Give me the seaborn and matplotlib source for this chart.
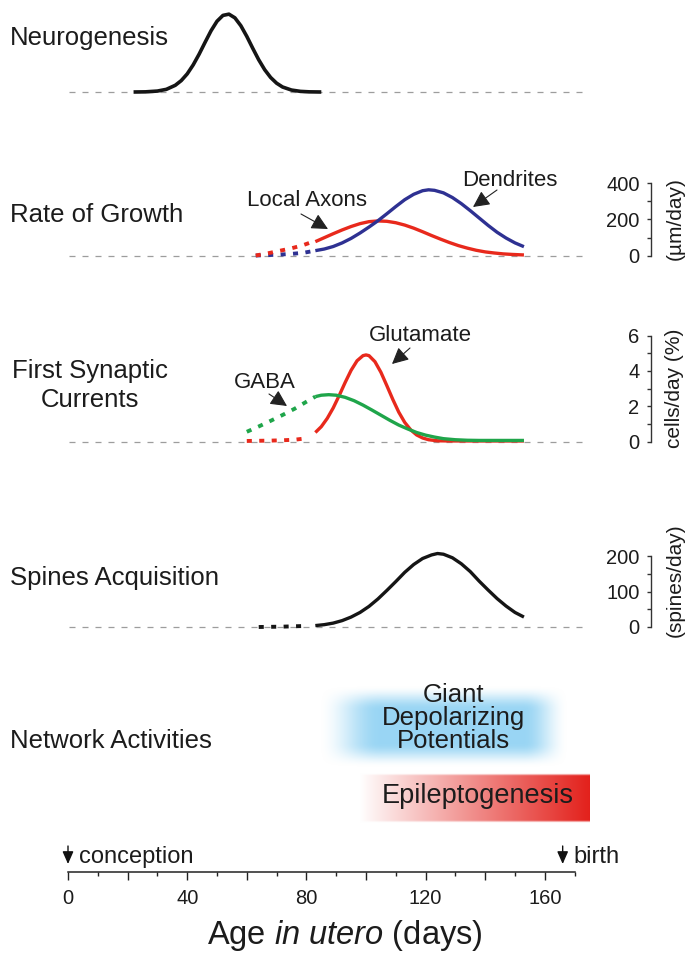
import numpy as np
import matplotlib
matplotlib.use("Agg")
import matplotlib.pyplot as plt
import seaborn as sns

# ---------------- data ----------------
neuro_days = [22, 26, 30, 33, 36, 38, 40, 42, 44, 46, 48, 50, 52, 54, 56, 58, 60, 62, 64, 66, 68, 70, 72, 75, 78, 81, 85]
neuro_vals = [0, 0.2, 1.2, 3.4, 8.6, 14.6, 23.2, 34.7, 48.5, 63.7, 78.5, 90.7, 98.2, 99.8, 95.1, 85.0, 71.3, 56.0,
              41.3, 28.6, 18.6, 11.3, 6.4, 2.5, 0.8, 0.2, 0]

axon_dot_days = [63, 67, 71, 75, 79, 82]
axon_dot_vals = [0, 12, 26, 40, 58, 76]
axon_days = [83, 86, 89, 92, 95, 98, 101, 104, 107, 110, 113, 116, 119, 122, 125, 128, 131, 134, 137, 140, 143, 146, 149, 153]
axon_vals = [77, 99, 121, 142, 161, 177, 188, 192, 190, 182, 169, 152, 132, 111, 91, 72, 55, 41, 29, 20, 14, 9, 6, 3]
dend_dot_days = [63, 67, 71, 75, 79, 82]
dend_dot_vals = [0, 2, 5, 9, 15, 24]
dend_days = [83, 86, 89, 92, 95, 98, 101, 104, 107, 110, 113, 116, 119, 121, 123, 126, 129, 132, 135, 138, 141, 144, 147, 150, 153]
dend_vals = [27, 36, 50, 70, 95, 125, 158, 193, 232, 272, 310, 340, 360, 365, 362, 348, 322, 288, 249, 208, 167, 129, 97, 70, 49]

gaba_dot_days = [60, 64, 68, 72, 76, 80, 83]
gaba_dot_vals = [0.55, 0.85, 1.17, 1.5, 1.85, 2.25, 2.54]
gaba_days = [83, 85, 87.5, 90, 93, 96, 99, 102, 105, 108, 111, 114, 117, 120, 123, 126, 130, 134, 138, 143, 148, 153]
gaba_vals = [2.54, 2.62, 2.65, 2.62, 2.5, 2.31, 2.06, 1.78, 1.49, 1.2, 0.93, 0.71, 0.51, 0.36, 0.25, 0.16, 0.1,
             0.07, 0.06, 0.06, 0.06, 0.06]
glu_dot_days = [60, 64, 68, 72, 76, 80]
glu_dot_vals = [0.03, 0.04, 0.05, 0.07, 0.1, 0.18]
glu_days = [83, 85, 87, 89, 91, 93, 95, 97, 99, 100, 101, 103, 105, 107, 109, 111, 113, 115, 117, 119, 121, 124, 128,
            135, 145, 153]
glu_vals = [0.51, 0.84, 1.31, 1.9, 2.6, 3.34, 4.03, 4.57, 4.86, 4.9, 4.86, 4.52, 3.92, 3.16, 2.38, 1.66, 1.08, 0.66,
            0.37, 0.2, 0.1, 0.04, 0.03, 0.03, 0.03, 0.03]

spine_dot_days = [64, 68, 72, 76, 80]
spine_dot_vals = [0, 0.5, 1, 2, 3]
spine_days = [83, 86, 89, 92, 95, 98, 101, 104, 107, 110, 113, 116, 119, 122, 124, 126, 129, 132, 135, 138, 141, 144,
              147, 150, 153]
spine_vals = [4, 6.6, 11, 18, 28, 41, 58, 79, 103, 128, 154, 176, 193, 203, 207, 205, 195, 178, 156, 129, 104, 80, 59,
              41, 28]

gdp_days = (84, 168)
epi_days = (98, 175)
conception_day = 0
birth_day = 166

xticks_major = [0, 20, 40, 60, 80, 100, 120, 140, 160]
xtick_labels = ["0", "", "40", "", "80", "", "120", "", "160"]
xticks_minor = [10, 30, 50, 70, 90, 110, 130, 150, 170]
axis_end = 170

growth_ticks, growth_minor = [0, 200, 400], [100, 300]
syn_ticks, syn_minor = [0, 2, 4, 6], [1, 3, 5]
spine_ticks, spine_minor = [0, 100, 200], [50, 150]

# ---------------- style ----------------
sns.set_theme(style="white")
plt.rcParams["font.family"] = ["Liberation Sans", "DejaVu Sans"]
plt.rcParams["mathtext.fontset"] = "custom"
plt.rcParams["mathtext.rm"] = "Liberation Sans"
plt.rcParams["mathtext.it"] = "Liberation Sans:italic"

RED, BLUE, GREEN, BLACK = "#e8291c", "#2e3192", "#1fa54a", "#151515"
TXT = "#1c1c1c"
W, H = 687, 957
fig = plt.figure(figsize=(W / 100, H / 100), dpi=100)
fig.patch.set_facecolor("white")

X0_PX, PX_PER_DAY = 68.0, 2.98
XLIM = (-X0_PX / PX_PER_DAY, (W - X0_PX) / PX_PER_DAY)


def px2day(px):
    return (px - X0_PX) / PX_PER_DAY


def fx(px):
    return px / W


def fy(py):
    return 1 - py / H


def panel(top, bottom, base, ref_py, ref_val):
    ax = fig.add_axes([0, fy(bottom), 1, (bottom - top) / H])
    ppu = (base - ref_py) / ref_val
    ax.set_xlim(*XLIM)
    ax.set_ylim(-(bottom - base) / ppu, (base - top) / ppu)
    ax.patch.set_alpha(0)
    for s in ax.spines.values():
        s.set_visible(False)
    ax.set_xticks([])
    ax.set_yticks([])
    ax.grid(False)
    ax._base, ax._ppu = base, ppu
    ax.hlines(0, 0.5, 174, colors="#9d9d9d", linestyles=(0, (4.8, 5.6)), lw=0.9, zorder=1)
    return ax


def v(ax, py):
    return (ax._base - py) / ax._ppu


def curve(ax, x, y, color, dotted=False, lw=2.4):
    if dotted:
        sns.lineplot(x=x, y=y, ax=ax, color=color, lw=lw + 0.4, linestyle=(0, (1.3, 1.9)),
                     dash_capstyle="butt", estimator=None, zorder=3)
    else:
        sns.lineplot(x=x, y=y, ax=ax, color=color, lw=lw, estimator=None, zorder=3,
                     solid_capstyle="butt")
    ax.set_xlabel("")
    ax.set_ylabel("")


def scale_axis(ax, ticks, minor, label, label_py):
    sp = ax.spines["left"]
    sp.set_visible(True)
    sp.set_position(("data", px2day(651)))
    sp.set_bounds(ticks[0], ticks[-1])
    sp.set_linewidth(1.0)
    sp.set_color("#333333")
    ax.yaxis.set_ticks_position("left")
    ax.set_yticks(ticks)
    ax.set_yticklabels([str(t) for t in ticks])
    ax.set_yticks(minor, minor=True)
    ax.tick_params(axis="y", which="both", left=True)
    ax.tick_params(axis="y", which="major", direction="out", length=3.2, width=1.0, labelsize=14.5,
                   pad=5, colors="#333333", labelcolor=TXT)
    ax.tick_params(axis="y", which="minor", direction="out", length=2.6, width=1.0, colors="#333333")
    ax.text(px2day(675), v(ax, label_py), label, rotation=90, ha="center", va="center",
            fontsize=15, color=TXT)


def arrow(ax, x0, y0, x1, y1):
    ax.annotate("", xy=(px2day(x1), v(ax, y1)), xytext=(px2day(x0), v(ax, y0)),
                arrowprops=dict(arrowstyle="-|>,head_length=1.0,head_width=0.5", mutation_scale=10,
                                lw=0.8, color="#222222", shrinkA=0, shrinkB=0))


def label(px, py, s, size=18.5, ha="left", va="baseline", **kw):
    fig.text(fx(px), fy(py), s, ha=ha, va=va, fontsize=size, color=TXT, **kw)


# ---------------- Neurogenesis ----------------
ax1 = panel(0, 130, 92, 14, 100)
curve(ax1, neuro_days, neuro_vals, BLACK, lw=2.6)
label(10, 45, "Neurogenesis")

# ---------------- Rate of growth ----------------
ax2 = panel(150, 290, 255.5, 183.5, 400)
curve(ax2, dend_dot_days, dend_dot_vals, BLUE, dotted=True)
curve(ax2, axon_dot_days, axon_dot_vals, RED, dotted=True)
curve(ax2, axon_days, axon_vals, RED)
curve(ax2, dend_days, dend_vals, BLUE)
scale_axis(ax2, growth_ticks, growth_minor, "(µm/day)", 219)
label(10, 222, "Rate of Growth")
ax2.text(px2day(307), v(ax2, 206), "Local Axons", ha="center", va="baseline", fontsize=16, color=TXT)
ax2.text(px2day(510), v(ax2, 186), "Dendrites", ha="center", va="baseline", fontsize=16, color=TXT)
arrow(ax2, 301, 214, 328, 229)
arrow(ax2, 497, 190, 473, 207)

# ---------------- First synaptic currents ----------------
ax3 = panel(310, 480, 441.5, 335.5, 6)
curve(ax3, glu_dot_days, glu_dot_vals, RED, dotted=True)
curve(ax3, gaba_dot_days, gaba_dot_vals, GREEN, dotted=True)
curve(ax3, glu_days, glu_vals, RED)
curve(ax3, gaba_days, gaba_vals, GREEN)
scale_axis(ax3, syn_ticks, syn_minor, "cells/day (%)", 388)
label(90, 378, "First Synaptic", ha="center")
label(90, 407, "Currents", ha="center")
ax3.text(px2day(265), v(ax3, 388), "GABA", ha="center", va="baseline", fontsize=16, color=TXT)
ax3.text(px2day(420), v(ax3, 341), "Glutamate", ha="center", va="baseline", fontsize=16, color=TXT)
arrow(ax3, 269, 394, 287, 406)
arrow(ax3, 410, 348, 392, 364)

# ---------------- Spines acquisition ----------------
ax4 = panel(520, 655, 627, 556, 200)
curve(ax4, spine_dot_days, spine_dot_vals, BLACK, dotted=True)
curve(ax4, spine_days, spine_vals, BLACK)
scale_axis(ax4, spine_ticks, spine_minor, "(spines/day)", 580)
label(10, 585, "Spines Acquisition")

# ---------------- Network activities ----------------
ax5 = fig.add_axes([0, fy(842), 1, (842 - 682) / H])
ax5.set_xlim(*XLIM)
ax5.set_ylim(842, 682)
ax5.axis("off")


def smooth(t):
    t = np.clip(t, 0, 1)
    return t * t * (3 - 2 * t)


# blue GDP box (soft edged)
gx = np.linspace(0, 1, 300)
gy = np.linspace(0, 1, 100)
by0, by1 = 686, 768
ax_a = smooth(gx / 0.25) * smooth((1 - gx) / 0.18)
ay_a = smooth(gy / 0.3) * smooth((1 - gy) / 0.3)
alpha = 0.85 * np.outer(ay_a, ax_a)
img = np.zeros((len(gy), len(gx), 4))
img[..., 0], img[..., 1], img[..., 2] = 0.53, 0.81, 0.95
img[..., 3] = alpha
ax5.imshow(img, extent=(gdp_days[0], gdp_days[1], by1, by0), aspect="auto", interpolation="bilinear", zorder=1)

# red epileptogenesis box
rx = np.linspace(0, 1, 300)
ry = np.linspace(0, 1, 60)
white = np.array([1.0, 1.0, 1.0])
redc = np.array([0.89, 0.13, 0.11])
t = rx ** 0.95
cols = white[None, :] * (1 - t[:, None]) + redc[None, :] * t[:, None]
img2 = np.ones((len(ry), len(rx), 4))
img2[..., :3] = cols[None, :, :]
img2[..., 3] = np.outer(smooth(ry / 0.05) * smooth((1 - ry) / 0.05), np.ones_like(rx))
ax5.imshow(img2, extent=(epi_days[0], epi_days[1], 823, 773), aspect="auto", interpolation="bilinear", zorder=1)
ax5.set_xlim(*XLIM)
ax5.set_ylim(842, 682)

label(10, 748, "Network Activities")
label(453, 718, "Giant\nDepolarizing\nPotentials", size=18.5, ha="center", va="center",
      linespacing=0.95, multialignment="center")
label(478, 803, "Epileptogenesis", size=19.5, ha="center")

# ---------------- age axis ----------------
ax6 = fig.add_axes([0, fy(872.3), 1, (872.3 - 845) / H])
ax6.set_xlim(*XLIM)
ax6.patch.set_alpha(0)
for s in ["top", "left", "right"]:
    ax6.spines[s].set_visible(False)
ax6.spines["bottom"].set_bounds(0, axis_end)
ax6.spines["bottom"].set_linewidth(1.1)
ax6.spines["bottom"].set_color("#222222")
ax6.set_yticks([])
ax6.set_xticks(xticks_major)
ax6.set_xticklabels(xtick_labels)
ax6.set_xticks(xticks_minor, minor=True)
ax6.tick_params(axis="x", which="both", bottom=True)
ax6.tick_params(axis="x", which="major", direction="out", length=5.8, width=1.0, labelsize=14.5, pad=6,
                colors="#222222", labelcolor=TXT)
ax6.tick_params(axis="x", which="minor", direction="out", length=3.2, width=1.0, colors="#222222")
ax6.grid(False)

for d in (conception_day, birth_day):
    xp = X0_PX + d * PX_PER_DAY
    ax6.annotate("", xy=(xp, H - 864), xytext=(xp, H - 846), xycoords="figure pixels",
                 textcoords="figure pixels",
                 arrowprops=dict(arrowstyle="-|>,head_length=0.75,head_width=0.33", mutation_scale=10,
                                 lw=1.0, color="#111111", shrinkA=0, shrinkB=0))
label(79, 863, "conception", size=17)
label(573, 863, "birth", size=17)
label(344.5, 944, r"Age $\mathit{in\ utero}$ (days)", size=23.5, ha="center")

fig.savefig("out.png", dpi=100, facecolor="white")
